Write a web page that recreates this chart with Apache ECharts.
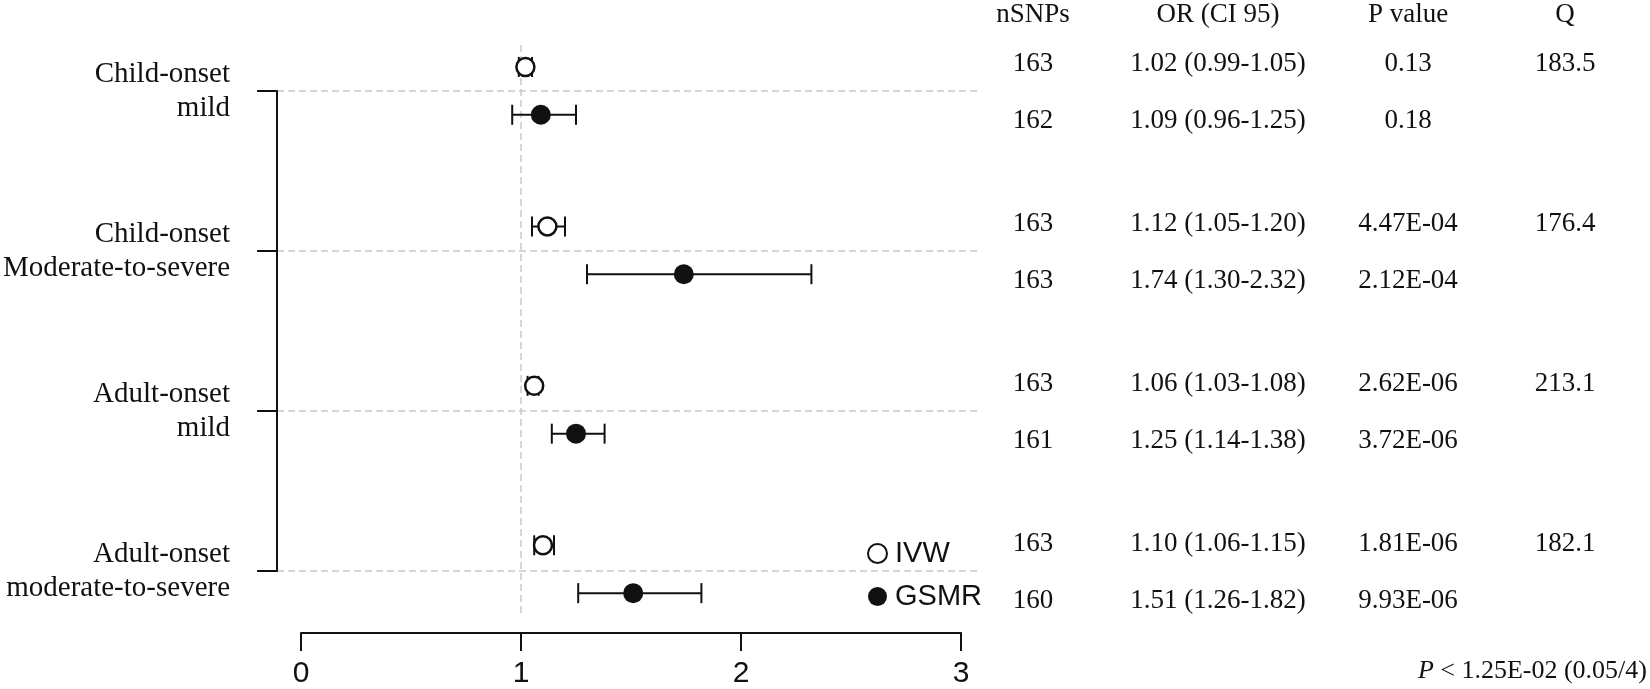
<!DOCTYPE html>
<html>
<head>
<meta charset="UTF-8">
<title>IVW / GSMR forest plot</title>
<style>
  * { margin: 0; padding: 0; }
  html, body { width: 100%; height: 100%; background: #fff; }
  #main { width: 1650px; height: 689px; }
</style>
<script src="https://cdn.jsdelivr.net/npm/echarts@6/dist/echarts.min.js"></script>
</head>
<body>
<div id="main"></div>
<script>
// ---- data ----
var groups = ['Child-onset\nmild', 'Child-onset\nModerate-to-severe', 'Adult-onset\nmild', 'Adult-onset\nmoderate-to-severe'];
var ivwOR = [1.02, 1.12, 1.06, 1.10];
var ivwLo = [0.99, 1.05, 1.03, 1.06];
var ivwHi = [1.05, 1.20, 1.08, 1.15];
var gsmrOR = [1.09, 1.74, 1.25, 1.51];
var gsmrLo = [0.96, 1.30, 1.14, 1.26];
var gsmrHi = [1.25, 2.32, 1.38, 1.82];
var ivwN = [163, 163, 163, 163];
var gsmrN = [162, 163, 161, 160];
var ivwP = ['0.13', '4.47E-04', '2.62E-06', '1.81E-06'];
var gsmrP = ['0.18', '2.12E-04', '3.72E-06', '9.93E-06'];
var qVal = ['183.5', '176.4', '213.1', '182.1'];
var headers = ['nSNPs', 'OR (CI 95)', 'P value', 'Q'];
var xTicks = [0, 1, 2, 3];

// ---- layout ----
var SERIF = "'Liberation Serif', 'Times New Roman', serif";
var SANS = "'Liberation Sans', Arial, sans-serif";
var groupTop = 91, groupStep = 160;   // pixel centre of first group, spacing
var plotTop = 45, plotBottom = 635;
var yMin = (plotTop - groupTop) / groupStep;
var yMax = (plotBottom - groupTop) / groupStep;
var refEnd = (618 - groupTop) / groupStep;
var off = 0.15;                        // IVW above, GSMR below the group line
var colX = [1033, 1218, 1408, 1565];
var dash = [7, 4];

function orText(o, l, h) {
  return o.toFixed(2) + ' (' + l.toFixed(2) + '-' + h.toFixed(2) + ')';
}

var ivwPts = [], gsmrPts = [], bars = [];
for (var i = 0; i < groups.length; i++) {
  ivwPts.push([ivwOR[i], i - off]);
  gsmrPts.push([gsmrOR[i], i + off]);
  bars.push([ivwLo[i], ivwHi[i], i - off]);
  bars.push([gsmrLo[i], gsmrHi[i], i + off]);
}

// table text
var graphics = [];
function txt(x, y, s) {
  graphics.push({
    type: 'text', x: x, y: y, silent: true,
    style: { text: s, fill: '#111', font: '27px ' + SERIF,
             align: 'center', verticalAlign: 'middle' }
  });
}
headers.forEach(function (h, k) { txt(colX[k], 15, h); });
for (var g = 0; g < groups.length; g++) {
  var c = groupTop + groupStep * g;
  var y1 = c - 27, y2 = c + 30;
  txt(colX[0], y1, String(ivwN[g]));
  txt(colX[1], y1, orText(ivwOR[g], ivwLo[g], ivwHi[g]));
  txt(colX[2], y1, ivwP[g]);
  txt(colX[3], y1, qVal[g]);
  txt(colX[0], y2, String(gsmrN[g]));
  txt(colX[1], y2, orText(gsmrOR[g], gsmrLo[g], gsmrHi[g]));
  txt(colX[2], y2, gsmrP[g]);
}
graphics.push({
  type: 'text', x: 1647, y: 671, silent: true,
  style: {
    text: '{i|P} < 1.25E-02 (0.05/4)', fill: '#111', font: '26px ' + SERIF,
    align: 'right', verticalAlign: 'middle',
    rich: { i: { fontStyle: 'italic', fontFamily: SERIF, fontSize: 26, fill: '#111' } }
  }
});

var chart = echarts.init(document.getElementById('main'));
chart.setOption({
  animation: false,
  backgroundColor: '#fff',
  graphic: graphics,
  legend: {
    orient: 'vertical', left: 862, top: 534,
    itemWidth: 19, itemHeight: 19, itemGap: 14,
    textStyle: { fontFamily: SANS, fontSize: 29, color: '#111', lineHeight: 28, padding: [0, 0, 0, 3] },
    data: ['IVW', 'GSMR']
  },
  grid: [
    { left: 301, top: plotTop, width: 660, height: plotBottom - plotTop },
    { left: 275, top: groupTop, width: 705, height: groupStep * 3 }
  ],
  xAxis: [
    {
      gridIndex: 0, type: 'value', min: 0, max: 3, interval: 1, position: 'bottom',
      axisLine: { show: true, onZero: false, lineStyle: { color: '#111', width: 2 } },
      axisTick: { show: true, inside: false, length: 18, lineStyle: { color: '#111', width: 2 } },
      axisLabel: { fontFamily: SANS, fontSize: 30, color: '#111', margin: 26,
                   formatter: function (v) { return xTicks.indexOf(v) >= 0 ? String(v) : ''; } },
      splitLine: { show: false }
    },
    { gridIndex: 1, type: 'value', min: 0, max: 1, show: false }
  ],
  yAxis: [
    { gridIndex: 0, type: 'value', min: yMin, max: yMax, inverse: true, show: false },
    {
      gridIndex: 1, type: 'value', min: 0, max: 3, interval: 1, inverse: true,
      axisLine: { show: true, lineStyle: { color: '#111', width: 2 } },
      axisTick: { show: true, inside: false, length: 20, lineStyle: { color: '#111', width: 2 } },
      axisLabel: {
        fontFamily: SERIF, fontSize: 29, color: '#111', lineHeight: 34,
        margin: 47, align: 'right', padding: [6, 0, 0, 0],
        formatter: function (v) { return groups[v] || ''; }
      },
      splitLine: { show: true, lineStyle: { color: '#c8c8c8', width: 1.5, type: dash } }
    }
  ],
  series: [
    {
      type: 'line', xAxisIndex: 0, yAxisIndex: 0, silent: true, symbol: 'none',
      lineStyle: { color: '#c8c8c8', width: 1.5, type: dash },
      data: [[1, yMin], [1, refEnd]], z: 1
    },
    {
      type: 'custom', xAxisIndex: 0, yAxisIndex: 0, silent: true, z: 2,
      data: bars,
      renderItem: function (params, api) {
        var a = api.coord([api.value(0), api.value(2)]);
        var b = api.coord([api.value(1), api.value(2)]);
        var st = { stroke: '#111', lineWidth: 2 };
        return {
          type: 'group',
          children: [
            { type: 'line', shape: { x1: a[0], y1: a[1], x2: b[0], y2: b[1] }, style: st },
            { type: 'line', shape: { x1: a[0], y1: a[1] - 10, x2: a[0], y2: a[1] + 10 }, style: st },
            { type: 'line', shape: { x1: b[0], y1: b[1] - 10, x2: b[0], y2: b[1] + 10 }, style: st }
          ]
        };
      }
    },
    {
      name: 'IVW', type: 'scatter', xAxisIndex: 0, yAxisIndex: 0, z: 3,
      symbol: 'circle', symbolSize: 18, data: ivwPts,
      itemStyle: { color: '#fff', borderColor: '#111', borderWidth: 2.5, opacity: 1 }
    },
    {
      name: 'GSMR', type: 'scatter', xAxisIndex: 0, yAxisIndex: 0, z: 3,
      symbol: 'circle', symbolSize: 20, data: gsmrPts,
      itemStyle: { color: '#111', opacity: 1 }
    }
  ]
});
</script>
</body>
</html>
